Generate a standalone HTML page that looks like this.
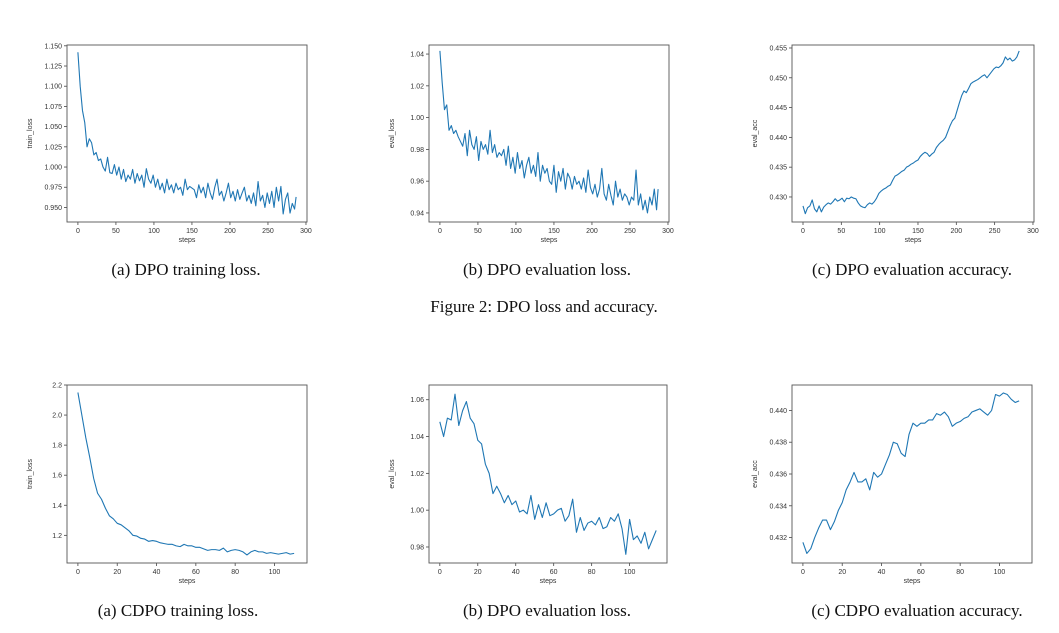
<!DOCTYPE html>
<html><head><meta charset="utf-8"><style>
body{margin:0;background:#fff;width:1059px;height:633px;overflow:hidden;font-family:"Liberation Sans",sans-serif}
svg{position:absolute;left:0;top:0}
.cap{position:absolute;font-family:"Liberation Serif",serif;font-size:17px;color:#111;white-space:nowrap;transform:translateX(-50%)}
</style></head><body>
<svg id="fig" width="1059" height="633"></svg>
<div class="cap" style="left:186px;top:260px">(a) DPO training loss.</div>
<div class="cap" style="left:547px;top:260px">(b) DPO evaluation loss.</div>
<div class="cap" style="left:912px;top:260px">(c) DPO evaluation accuracy.</div>
<div class="cap" style="left:544px;top:297px">Figure 2: DPO loss and accuracy.</div>
<div class="cap" style="left:178px;top:601px">(a) CDPO training loss.</div>
<div class="cap" style="left:547px;top:601px">(b) DPO evaluation loss.</div>
<div class="cap" style="left:917px;top:601px">(c) CDPO evaluation accuracy.</div>
<script>
const dpoTrainLoss=[1.142,1.100,1.070,1.055,1.025,1.035,1.030,1.015,1.018,1.008,1.010,1.000,0.995,1.012,0.993,0.992,1.003,0.990,1.000,0.985,0.997,0.982,0.990,0.985,0.997,0.980,0.992,0.983,0.990,0.975,0.998,0.985,0.980,0.990,0.975,0.985,0.972,0.980,0.968,0.985,0.972,0.978,0.968,0.980,0.972,0.975,0.965,0.985,0.972,0.976,0.974,0.972,0.962,0.978,0.968,0.975,0.962,0.980,0.968,0.960,0.975,0.985,0.965,0.970,0.958,0.968,0.980,0.962,0.970,0.958,0.972,0.960,0.968,0.975,0.958,0.965,0.955,0.968,0.952,0.982,0.958,0.965,0.950,0.968,0.955,0.970,0.950,0.975,0.958,0.976,0.942,0.960,0.968,0.943,0.955,0.948,0.963];
const dpoEvalLoss=[1.042,1.022,1.005,1.008,0.992,0.995,0.990,0.992,0.988,0.985,0.982,0.990,0.976,0.992,0.983,0.980,0.988,0.973,0.985,0.980,0.983,0.977,0.992,0.978,0.983,0.975,0.978,0.976,0.980,0.970,0.982,0.968,0.975,0.965,0.978,0.968,0.973,0.962,0.970,0.975,0.965,0.970,0.963,0.978,0.960,0.970,0.965,0.968,0.960,0.958,0.970,0.953,0.966,0.960,0.968,0.955,0.965,0.962,0.955,0.963,0.958,0.960,0.955,0.962,0.953,0.967,0.956,0.952,0.958,0.950,0.955,0.968,0.952,0.948,0.958,0.951,0.945,0.960,0.950,0.955,0.948,0.952,0.950,0.945,0.950,0.948,0.967,0.945,0.952,0.942,0.948,0.940,0.950,0.945,0.955,0.942,0.955];
const dpoEvalAcc=[0.4285,0.4272,0.4282,0.4285,0.4295,0.4280,0.4275,0.4285,0.4275,0.4283,0.4287,0.4290,0.4288,0.4292,0.4297,0.4293,0.4295,0.4298,0.4292,0.4298,0.4297,0.4300,0.4298,0.4297,0.4290,0.4285,0.4283,0.4282,0.4287,0.4290,0.4288,0.4292,0.4298,0.4306,0.4310,0.4313,0.4315,0.4318,0.4320,0.4328,0.4335,0.4337,0.4340,0.4343,0.4345,0.4350,0.4352,0.4355,0.4357,0.4360,0.4362,0.4368,0.4372,0.4375,0.4373,0.4368,0.4372,0.4375,0.4383,0.4388,0.4392,0.4395,0.4400,0.4410,0.4420,0.4428,0.4432,0.4445,0.4458,0.4470,0.4478,0.4475,0.4482,0.4490,0.4493,0.4495,0.4497,0.4500,0.4503,0.4505,0.4500,0.4505,0.4510,0.4515,0.4518,0.4517,0.4520,0.4525,0.4535,0.4530,0.4533,0.4528,0.4530,0.4535,0.4545];
const cdpoTrainLoss=[2.15,2.00,1.85,1.72,1.58,1.48,1.44,1.38,1.33,1.31,1.28,1.27,1.25,1.23,1.20,1.195,1.18,1.175,1.16,1.165,1.16,1.15,1.145,1.14,1.14,1.13,1.125,1.14,1.13,1.13,1.12,1.12,1.11,1.10,1.105,1.105,1.10,1.115,1.09,1.10,1.105,1.10,1.09,1.07,1.09,1.10,1.09,1.09,1.08,1.085,1.08,1.075,1.08,1.085,1.075,1.08];
const cdpoEvalLoss=[1.048,1.040,1.050,1.049,1.063,1.046,1.054,1.059,1.050,1.047,1.038,1.036,1.025,1.020,1.009,1.013,1.009,1.004,1.008,1.003,1.005,0.999,1.000,0.998,1.008,0.995,1.003,0.996,1.004,0.997,0.998,1.000,1.001,0.994,0.997,1.006,0.988,0.996,0.989,0.993,0.994,0.992,0.996,0.990,0.991,0.996,0.994,0.998,0.990,0.976,0.995,0.984,0.986,0.982,0.988,0.979,0.984,0.989];
const cdpoEvalAcc=[0.4317,0.4310,0.4313,0.4320,0.4326,0.4331,0.4331,0.4325,0.4330,0.4337,0.4342,0.4350,0.4355,0.4361,0.4355,0.4355,0.4357,0.4350,0.4361,0.4358,0.4360,0.4366,0.4372,0.4380,0.4379,0.4373,0.4371,0.4385,0.4392,0.4390,0.4392,0.4392,0.4394,0.4394,0.4398,0.4397,0.4399,0.4396,0.4390,0.4392,0.4393,0.4395,0.4396,0.4399,0.4400,0.4401,0.4399,0.4397,0.4400,0.4410,0.4409,0.4411,0.4410,0.4407,0.4405,0.4406];
const topXTicks=[0,50,100,150,200,250,300];
const botXTicks=[0,20,40,60,80,100];
const ticksA1=[0.950,0.975,1.000,1.025,1.050,1.075,1.100,1.125,1.150];
const ticksB1=[0.94,0.96,0.98,1.00,1.02,1.04];
const ticksC1=[0.430,0.435,0.440,0.445,0.450,0.455];
const ticksA2=[1.2,1.4,1.6,1.8,2.0,2.2];
const ticksB2=[0.98,1.00,1.02,1.04,1.06];
const ticksC2=[0.432,0.434,0.436,0.438,0.440];

const NS="http://www.w3.org/2000/svg";
const svg=document.getElementById('fig');
function mk(tag,attrs,parent){const e=document.createElementNS(NS,tag);for(const k in attrs)e.setAttribute(k,attrs[k]);(parent||svg).appendChild(e);return e;}
function panel(name,box,xdom,ydom,xt,yt,ydec,vals,stepMul,maxStep,ylab){
  const g=mk('g',{});
  
  
  const [L,T,R,B]=box;
  const sx=v=>L+(v-xdom[0])/(xdom[1]-xdom[0])*(R-L);
  const sy=v=>B-(v-ydom[0])/(ydom[1]-ydom[0])*(B-T);
  xt.forEach(t=>{const x=sx(t);
    mk('line',{x1:x,x2:x,y1:B,y2:B+3,stroke:'#444','stroke-width':0.8},g);
    const tx=mk('text',{x:x,y:B+11,'font-size':7,'text-anchor':'middle',fill:'#333'},g);tx.textContent=t;
    
    });
  yt.forEach(t=>{const y=sy(t);
    mk('line',{x1:L-3,x2:L,y1:y,y2:y,stroke:'#444','stroke-width':0.8},g);
    const tx=mk('text',{x:L-5,y:y+2.5,'font-size':7,'text-anchor':'end',fill:'#333'},g);tx.textContent=t.toFixed(ydec);
    
    });
  const pts=vals.map((v,i)=>sx(Math.min(i*stepMul,maxStep)).toFixed(2)+','+sy(v).toFixed(2)).join(' ');
  const pl=mk('polyline',{points:pts,fill:'none',stroke:'#1f77b4','stroke-width':1.1,'stroke-linejoin':'round'},g);
  
  
  const fr=mk('rect',{x:L,y:T,width:R-L,height:B-T,fill:'none',stroke:'#555','stroke-width':0.9},g);
  
  
  const xl=mk('text',{x:(L+R)/2,y:B+20,'font-size':7,'text-anchor':'middle',fill:'#333'},g);xl.textContent='steps';
  
  
  const yx=L-35,yy=(T+B)/2;
  const yl=mk('text',{x:yx,y:yy,'font-size':7,'text-anchor':'middle',fill:'#333',transform:`rotate(-90 ${yx} ${yy})`},g);yl.textContent=ylab;
  
  
}
panel('dpo-train-loss-chart',[67,45,307,222],[-14.35,301.35],[0.932,1.151],topXTicks,ticksA1,3,dpoTrainLoss,3,287,'train_loss');
panel('dpo-eval-loss-chart',[429,45,669,222],[-14.35,301.35],[0.9343,1.0457],topXTicks,ticksB1,2,dpoEvalLoss,3,287,'eval_loss');
panel('dpo-eval-acc-chart',[792,45,1034,222],[-14.35,301.35],[0.4258,0.4555],topXTicks,ticksC1,3,dpoEvalAcc,3,287,'eval_acc');
panel('cdpo-train-loss-chart',[67,385,307,563],[-5.55,116.55],[1.016,2.2],botXTicks,ticksA2,1,cdpoTrainLoss,2,111,'train_loss');
panel('dpo-eval-loss-chart-2',[429,385,667,563],[-5.7,119.7],[0.9713,1.068],botXTicks,ticksB2,2,cdpoEvalLoss,2,114,'eval_loss');
panel('cdpo-eval-acc-chart',[792,385,1032,563],[-5.55,116.55],[0.4304,0.4416],botXTicks,ticksC2,3,cdpoEvalAcc,2,111,'eval_acc');
</script>
</body></html>
